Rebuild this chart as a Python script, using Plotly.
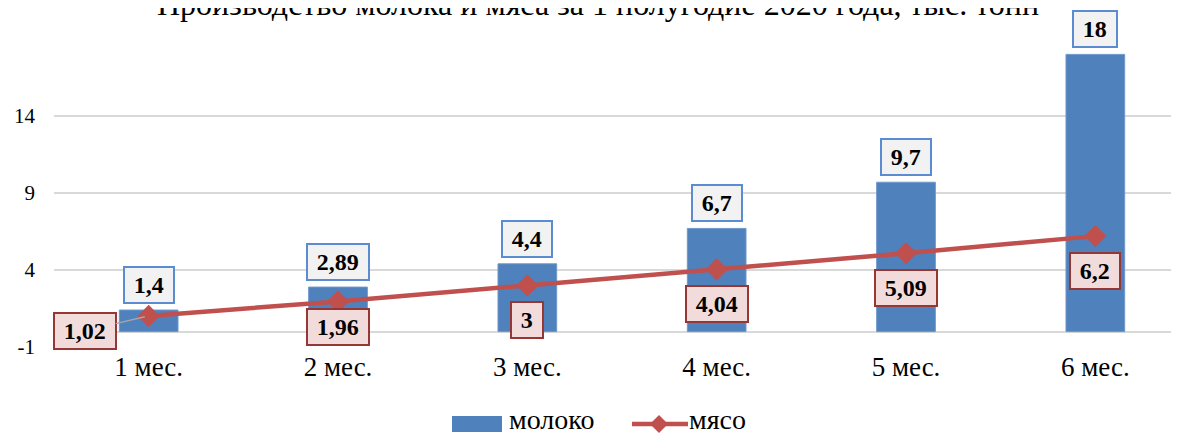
import plotly.graph_objects as go

categories = ["1 мес.", "2 мес.", "3 мес.", "4 мес.", "5 мес.", "6 мес."]
milk = [1.4, 2.89, 4.4, 6.7, 9.7, 18]
meat = [1.02, 1.96, 3, 4.04, 5.09, 6.2]
milk_labels = ["1,4", "2,89", "4,4", "6,7", "9,7", "18"]
meat_labels = ["1,02", "1,96", "3", "4,04", "5,09", "6,2"]
y_ticks = [-1, 4, 9, 14]
title_text = "Производство молока и мяса за 1 полугодие 2020 года, тыс. тонн"

W, H = 1179, 435
OFF = 8  # page body margin offset of the figure in the screenshot
# plot area in screenshot pixels: left 54, top 39, bottom 347, right edge 1190 (beyond view)
ML = 54 - OFF
MT = 39 - OFF
MB = H - (347 - OFF)
MR = 0
PW, PH = W - ML - MR, H - MT - MB
CAT_W = (1190 - 54) / 6.0
FONT = "Liberation Serif"
BLUE = "#4F81BD"
RED = "#C0504D"
SP = "\u2009"


def px(x):
    return (x - OFF - ML) / PW


def py(y):
    return (H - MB - (y - OFF)) / PH


fig = go.Figure()
fig.add_trace(go.Bar(x=categories, y=milk, name="молоко",
                     marker=dict(color=BLUE, line=dict(color="#6F97CC", width=1)), showlegend=False))
fig.add_trace(go.Scatter(x=categories, y=meat, name="мясо", mode="lines+markers",
                         line=dict(color=RED, width=4.5),
                         marker=dict(symbol="diamond", size=17, color=RED), showlegend=False))

lab_font = dict(family=FONT, size=24, color="black")
ann = []
for c, v, t in zip(categories, milk, milk_labels):
    ann.append(dict(x=c, y=v, text="<b>" + SP + t + SP + "</b>", showarrow=False, yanchor="bottom", yshift=6,
                    font=lab_font, bgcolor="#F2F2F2", bordercolor="#5B8BD0", borderwidth=2, borderpad=4))
meat_shift = {1: -7}
for i, (c, v, t) in enumerate(zip(categories, meat, meat_labels)):
    common = dict(x=c, y=v, text="<b>" + SP + t + SP + "</b>", font=lab_font, bgcolor="#F2DCDB",
                  bordercolor="#953735", borderwidth=2, borderpad=4)
    if i == 0:
        ann.append(dict(**common, showarrow=True, arrowhead=0, arrowcolor="#A6A6A6", arrowwidth=1.5,
                        ax=-64, ay=15, standoff=4))
    else:
        ann.append(dict(**common, showarrow=False, yanchor="top", yshift=meat_shift.get(i, -16)))

# title
ann.append(dict(xref="paper", yref="paper", x=px(598), y=1, yanchor="bottom", yshift=15, showarrow=False,
                text=title_text, font=dict(family=FONT, size=32, color="black")))
# legend
leg_font = dict(family=FONT, size=28, color="black")
ann.append(dict(xref="paper", yref="paper", x=px(507), y=py(420), xanchor="left", yanchor="middle",
                showarrow=False, text="молоко", font=leg_font))
ann.append(dict(xref="paper", yref="paper", x=px(687), y=py(420), xanchor="left", yanchor="middle",
                showarrow=False, text="мясо", font=leg_font))

shapes = [
    dict(type="rect", xref="paper", yref="paper", x0=px(452), x1=px(502), y0=py(416), y1=py(432),
         fillcolor=BLUE, line=dict(width=0)),
    dict(type="line", xref="paper", yref="paper", x0=px(632), x1=px(688), y0=py(424), y1=py(424),
         line=dict(color=RED, width=4.5)),
    dict(type="path", xref="paper", yref="paper",
         path=f"M {px(659)} {py(415)} L {px(668)} {py(424)} L {px(659)} {py(433)} L {px(650)} {py(424)} Z",
         fillcolor=RED, line=dict(width=0)),
]

fig.update_layout(
    width=W, height=H,
    margin=dict(l=ML, r=MR, t=MT, b=MB, autoexpand=False),
    paper_bgcolor="white", plot_bgcolor="white",
    bargap=0.69,
    annotations=ann, shapes=shapes,
    font=dict(family=FONT, color="black"),
    showlegend=False,
)
fig.update_xaxes(range=[-0.5, -0.5 + PW / CAT_W], showgrid=False, showline=False, zeroline=False,
                 automargin=False, tickfont=dict(family=FONT, size=27, color="black"), ticks="",
                 ticklabelstandoff=1)
fig.update_yaxes(range=[-1, 19], tickvals=y_ticks, ticktext=[str(v) for v in y_ticks], showgrid=True,
                 gridcolor="#D9D9D9", gridwidth=1.5, zeroline=True, zerolinecolor="#D9D9D9", zerolinewidth=1.5,
                 showline=False, automargin=False, tickfont=dict(family=FONT, size=21, color="black"), ticks="",
                 ticklabelstandoff=18)

fig.write_html("out.html")
